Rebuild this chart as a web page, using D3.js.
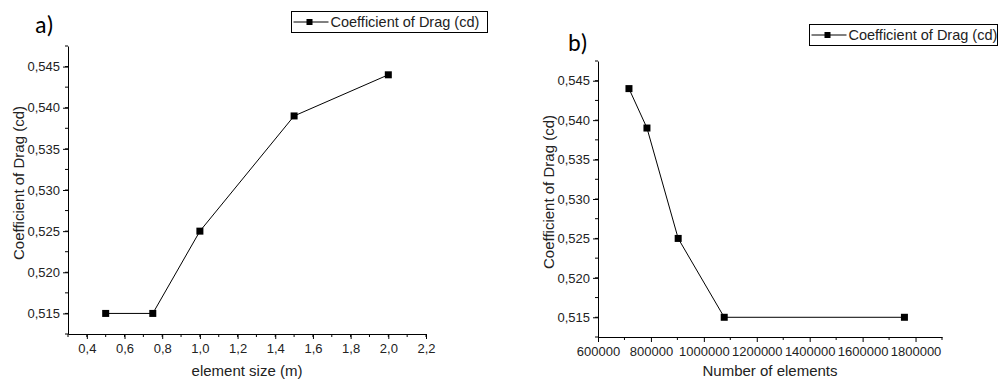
<!DOCTYPE html>
<html>
<head>
<meta charset="utf-8">
<script src="https://cdn.jsdelivr.net/npm/d3@7"></script>
<style>
  body { margin: 0; background: #fff; }
  svg { display: block; }
  svg text { font-family: Arial, "Liberation Sans", sans-serif; }
  svg text.tag { font-family: Carlito, "Open Sans", sans-serif; }
</style>
</head>
<body>
<svg id="chart" width="1000" height="383"></svg>
<script>
// element size (m) vs cd
const sizeX = [0.5, 0.75, 1.0, 1.5, 2.0]
const sizeCd = [0.515, 0.515, 0.525, 0.539, 0.544]

// number of elements vs cd
const elemX = [717000, 785000, 903000, 1077000, 1758000]
const elemCd = [0.544, 0.539, 0.525, 0.515, 0.515]

const yTicks = [0.515, 0.52, 0.525, 0.53, 0.535, 0.54, 0.545]
const sizeTicks = [0.4, 0.6, 0.8, 1.0, 1.2, 1.4, 1.6, 1.8, 2.0, 2.2]
const elemTicks = [600000, 800000, 1000000, 1200000, 1400000, 1600000, 1800000]

const seriesName = "Coefficient of Drag (cd)"

const loc = d3.formatLocale({decimal: ",", thousands: "", grouping: [3], currency: ["", ""]})

const svg = d3.select("#chart")

function panel(opt) {
    const {left, right, top, bottom, xs, ys, xDomain, xTicks, xMinor, xFmt, xTitle, tag, tagPos, legend} = opt
    const g = svg.append("g")

    const x = d3.scaleLinear().domain(xDomain).range([left, right])
    const y = d3.scaleLinear().domain([0.5125, 0.5475]).range([bottom, top])

    // minor ticks
    const minorY = d3.range(0.5125, 0.5476, 0.0025)
    g.append("g").selectAll("line").data(minorY).join("line")
        .attr("x1", left - 3).attr("x2", left)
        .attr("y1", d => y(d)).attr("y2", d => y(d))
        .attr("stroke", "#000").attr("stroke-width", 1)
    g.append("g").selectAll("line").data(xMinor).join("line")
        .attr("y1", bottom).attr("y2", bottom + 3)
        .attr("x1", d => x(d)).attr("x2", d => x(d))
        .attr("stroke", "#000").attr("stroke-width", 1)

    const yAxis = g.append("g")
        .attr("transform", `translate(${left},0)`)
        .call(d3.axisLeft(y).tickValues(yTicks).tickFormat(loc.format(".3f")).tickSize(5).tickSizeOuter(0))
    const xAxis = g.append("g")
        .attr("transform", `translate(0,${bottom})`)
        .call(d3.axisBottom(x).tickValues(xTicks).tickFormat(xFmt).tickSize(5).tickSizeOuter(0))

    for (const ax of [xAxis, yAxis]) {
        ax.attr("font-size", 13)
        ax.selectAll("text").attr("fill", "#222")
        ax.select(".domain").attr("stroke", "#000")
    }
    yAxis.selectAll("text").attr("x", -8)
    xAxis.selectAll("text").attr("y", 10)

    g.append("text")
        .attr("x", (left + right) / 2).attr("y", 376)
        .attr("text-anchor", "middle").attr("font-size", 15).attr("fill", "#222")
        .text(xTitle)
    g.append("text")
        .attr("transform", `translate(${left - 44},${(top + bottom) / 2 - 7}) rotate(-90)`)
        .attr("text-anchor", "middle").attr("font-size", 15).attr("fill", "#222")
        .text(seriesName)

    const pts = xs.map((v, i) => [v, ys[i]])
    g.append("path")
        .datum(pts)
        .attr("fill", "none").attr("stroke", "#000").attr("stroke-width", 1)
        .attr("d", d3.line().x(d => x(d[0])).y(d => y(d[1])))
    g.append("g").selectAll("rect").data(pts).join("rect")
        .attr("x", d => x(d[0]) - 3.5).attr("y", d => y(d[1]) - 3.5)
        .attr("width", 7).attr("height", 7).attr("fill", "#000")

    g.append("text")
        .attr("class", "tag")
        .attr("x", tagPos[0]).attr("y", tagPos[1])
        .attr("font-size", 24).attr("fill", "#000")
        .text(tag)

    // legend
    const [lx, ly, lw, lh] = legend
    const lg = g.append("g")
    lg.append("rect").attr("x", lx).attr("y", ly).attr("width", lw).attr("height", lh)
        .attr("fill", "#fff").attr("stroke", "#000").attr("stroke-width", 1)
    lg.append("line").attr("x1", lx + 2).attr("x2", lx + 37)
        .attr("y1", ly + lh / 2).attr("y2", ly + lh / 2).attr("stroke", "#000")
    lg.append("rect").attr("x", lx + 15).attr("y", ly + lh / 2 - 3)
        .attr("width", 6).attr("height", 6).attr("fill", "#000")
    lg.append("text").attr("x", lx + 39).attr("y", ly + lh / 2 + 5)
        .attr("font-size", 14.5).attr("fill", "#222")
        .text(seriesName)
}

panel({
    left: 68, right: 426, top: 46, bottom: 334,
    xs: sizeX, ys: sizeCd,
    xDomain: [0.3, 2.2], xTicks: sizeTicks,
    xMinor: d3.range(0.3, 2.21, 0.1),
    xFmt: loc.format(".1f"),
    xTitle: "element size (m)",
    tag: "a)", tagPos: [35, 33],
    legend: [291.5, 11.5, 196, 21]
})

panel({
    left: 598, right: 942, top: 61, bottom: 337,
    xs: elemX, ys: elemCd,
    xDomain: [600000, 1900000], xTicks: elemTicks,
    xMinor: d3.range(700000, 1900001, 200000),
    xFmt: d3.format("d"),
    xTitle: "Number of elements",
    tag: "b)", tagPos: [568, 51],
    legend: [809.5, 24.5, 188, 21]
})
</script>
</body>
</html>
